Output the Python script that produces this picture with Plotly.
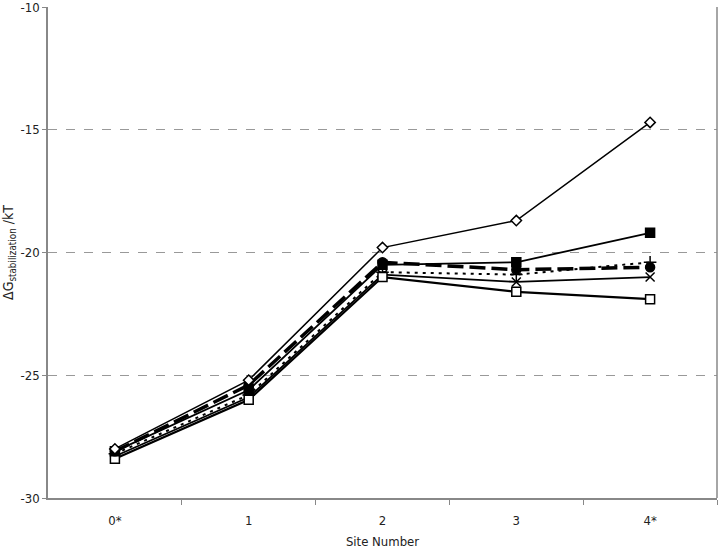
import plotly.graph_objects as go

sites = [0, 1, 2, 3, 4]
site_labels = ["0*", "1", "2", "3", "4*"]
y_ticks = [-30, -25, -20, -15, -10]
y_tick_labels = ["-30", "-25", "-20", "-15", "-10"]

open_diamond = [-28.0, -25.2, -19.8, -18.7, -14.7]
filled_square = [-28.1, -25.6, -20.5, -20.4, -19.2]
filled_circle = [-28.1, -25.4, -20.4, -20.7, -20.6]
plus_dotted = [-28.2, -25.8, -20.8, -20.9, -20.4]
cross_line = [-28.3, -25.9, -20.9, -21.2, -21.0]
open_square = [-28.4, -26.0, -21.0, -21.6, -21.9]

fig = go.Figure()


def add(y, symbol, dash, width, size, fill="black"):
    fig.add_trace(go.Scatter(
        x=sites, y=y, mode="lines+markers",
        line=dict(color="black", width=width, dash=dash),
        marker=dict(symbol=symbol, size=size, color=fill,
                    line=dict(color="black", width=1.5)),
        showlegend=False,
    ))


add(plus_dotted, "cross-thin", "3px,5px", 2, 9)
add(cross_line, "x-thin", "solid", 1.8, 9)
add(open_square, "square", "solid", 2.2, 9, fill="white")
add(filled_square, "square", "solid", 1.8, 9)
add(filled_circle, "circle", "16px,6px", 3.5, 9)
add(open_diamond, "diamond", "solid", 1.5, 8, fill="white")

font = "DejaVu Sans Condensed, Liberation Sans Narrow, sans-serif"
fig.update_layout(
    width=720, height=550,
    margin=dict(l=48, r=3, t=7, b=52),
    plot_bgcolor="white", paper_bgcolor="white",
    font=dict(family=font, size=12, color="#222"),
    xaxis=dict(
        range=[-0.5, 4.5], tickvals=sites, ticktext=site_labels,
        showgrid=False, zeroline=False, showline=True, automargin=False,
        linecolor="#888", linewidth=1.5, ticks="", ticklabelstandoff=10,
        tickfont=dict(size=13),
        minor=dict(tickvals=[0.5, 1.5, 2.5, 3.5, 4.5], ticks="outside",
                   ticklen=5, tickcolor="#888", showgrid=False),
        title=dict(text="Site Number", standoff=10, font=dict(size=13)),
    ),
    yaxis=dict(
        range=[-30, -10], tickvals=y_ticks, ticktext=y_tick_labels,
        showgrid=True, gridcolor="#999", automargin=False,
        ticklabeloverflow="allow",
        griddash="dash", gridwidth=1, zeroline=False, showline=True,
        linecolor="#888", linewidth=1.5, ticks="outside", ticklen=4,
        tickcolor="#888", tickfont=dict(size=13),
        title=dict(text="ΔG<sub>stabilization</sub> /kT", standoff=4,
                   font=dict(size=14)),
    ),
    shapes=[dict(type="line", xref="paper", yref="paper", x0=1, x1=1,
                 y0=0, y1=1, line=dict(color="#888", width=1.5))],
)

fig.write_html("out.html", config={"displayModeBar": False},
               post_script="document.body.style.margin='0';")
